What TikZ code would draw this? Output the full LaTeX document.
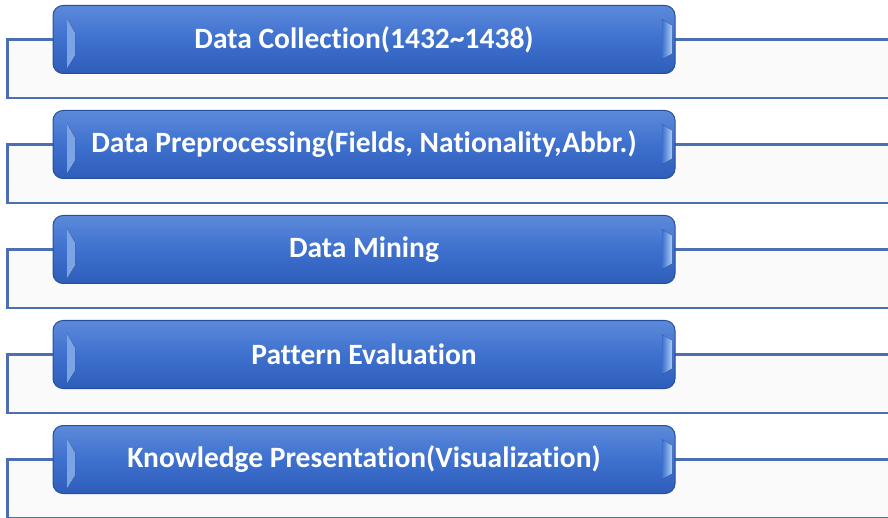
\documentclass[tikz,border=0pt]{standalone}
\usepackage{fontspec}
\setmainfont{Carlito}[Ligatures=NoCommon]
\usepackage{tikz}
\usetikzlibrary{positioning, calc}
\pgfdeclarelayer{bg}
\pgfsetlayers{bg,main}
\definecolor{boxtop}{RGB}{92,138,218}
\definecolor{boxmid}{RGB}{62,112,206}
\definecolor{boxbot}{RGB}{46,94,186}
\definecolor{boxline}{RGB}{38,78,158}
\definecolor{bevel}{RGB}{170,205,245}
\definecolor{frameline}{RGB}{76,110,178}
\definecolor{framefill}{RGB}{250,250,250}
\tikzset{
  stage/.style={rectangle, rounded corners=10pt, draw=boxline, line width=1pt,
    top color=boxtop, bottom color=boxbot, middle color=boxmid,
    minimum width=622pt, minimum height=68pt, text=white,
    font=\fontsize{29.5}{34}\selectfont\bfseries,
    path picture={
      \fill[sharp corners, left color=bevel!55!boxmid, right color=bevel]
        ($(path picture bounding box.north west)+(14,-13)$) -- ++(8,-14)
        -- ++(0,-23) -- ++(-8,-13) -- cycle;
      \fill[sharp corners, left color=boxmid, right color=bevel]
        ($(path picture bounding box.north east)+(-13,-14)$) -- ++(10,-6)
        -- ++(0,-28) -- ++(-10,-6) -- cycle;
    }},
  frame/.style={draw=frameline, line width=2.2pt, fill=framefill}
}

\begin{document}
\begin{tikzpicture}[x=1pt, y=1pt, node distance=36pt]
  \useasboundingbox (0,0) rectangle (888,-518);
  \clip (0,0) rectangle (888,-518);

  % steps of the process
  \node[stage] (collect) at (364,-39.5) {Data Collection(1432\textasciitilde1438)};
  \node[stage, below=of collect] (prep) {Data Preprocessing(Fields, Nationality,Abbr.)};
  \node[stage, below=of prep] (mine) {Data Mining};
  \node[stage, below=of mine] (eval) {Pattern Evaluation};
  \node[stage, below=of eval] (know) {Knowledge Presentation(Visualization)};

  % frames behind each step
  \begin{pgfonlayer}{bg}
    \foreach \n in {collect, prep, mine, eval, know} {
      \draw[frame] ($(\n.west)+(-45,0)$) rectangle ($(\n.south east)+(240,-24)$);
    }
  \end{pgfonlayer}
\end{tikzpicture}
\end{document}
